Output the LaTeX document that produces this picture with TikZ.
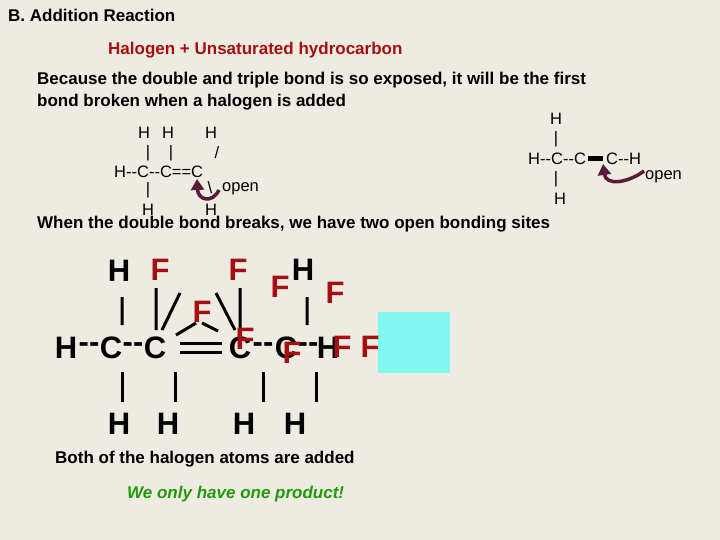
\documentclass[tikz,border=0pt]{standalone}
\usepackage{fontspec}
\setmainfont{Liberation Sans}
\begin{document}
\begin{tikzpicture}[x=1pt,y=-1pt,
  hd/.style={font=\fontsize{17}{19}\selectfont\bfseries,anchor=west,inner sep=0},
  sm/.style={font=\fontsize{16.5}{18}\selectfont,inner sep=0},
  bg/.style={font=\fontsize{31}{33}\selectfont\bfseries,inner sep=0},
  fl/.style={font=\fontsize{31}{33}\selectfont\bfseries,text=fred,inner sep=0},
  bond/.style={line width=3pt},
  arr/.style={draw=arrc,line width=3.5pt,-{Triangle[length=11pt,width=13pt]}}]
\usetikzlibrary{arrows.meta}
\definecolor{bgc}{HTML}{EEEBE3}
\definecolor{fred}{HTML}{A50F0F}
\definecolor{arrc}{HTML}{5B1A3A}
\definecolor{cyanb}{HTML}{80F8F0}
\definecolor{grn}{HTML}{1E9A0A}
\fill[bgc] (0,0) rectangle (720,540);
\useasboundingbox (0,0) rectangle (720,540);
\node[hd] (t1) at (8,15) {B. Addition Reaction};
\node[hd,text=fred] (t2) at (108,50) {Halogen + Unsaturated hydrocarbon};
\node[hd] (t3) at (37,80) {Because the double and triple bond is so exposed, it will be the first};
\node[hd] (t4) at (37,102) {bond broken when a halogen is added};
% top-left molecule
\node[sm] (a1) at (144,133) {H};
\node[sm] (a2) at (168,133) {H};
\node[sm] (a3) at (211,133) {H};
\node[sm] (a4) at (148,153) {|};
\node[sm] (a5) at (171,153) {|};
\node[sm] (a6) at (217,153) {/};
\node[sm,anchor=west] (a7) at (114,172) {H-{}-C-{}-C==C};
\node[sm] (a8) at (148,190) {|};
\node[sm] (a9) at (210,188) {\textbackslash};
\node[sm,anchor=west] (a10) at (222,189) {open};
\node[sm] (a11) at (148,210) {H};
\node[sm] (a12) at (211,210) {H};
\draw[arr] (a10.west)++(-3,1) .. controls (212,204) and (198,200) .. (197,179);
% right molecule
\node[sm] (b1) at (556,119) {H};
\node[sm] (b2) at (556,139) {|};
\node[sm,anchor=west] (b3) at (528,159) {H-{}-C-{}-C};
\node[sm,anchor=west] (b4) at (606,159) {C-{}-H};
\fill (588,156.5) rectangle (603,161.5);
\node[sm] (b5) at (556,179) {|};
\node[sm] (b6) at (560,199) {H};
\node[sm,anchor=west] (b7) at (645,177) {open};
\draw[arr] (b7.west)++(-1,-6) .. controls (628,183) and (606,186) .. (603,164);
\node[hd] (t5) at (37,224) {When the double bond breaks, we have two open bonding sites};
% bottom molecule
\fill[cyanb] (378,312) rectangle (450,373);
\node[bg] (h1) at (119,271) {H};
\node[bg] (h2) at (303,270) {H};
\node[bg] (hl) at (66,348) {H};
\node[bg] (d1) at (89,348) {-{}-};
\node[bg] (c1) at (111,348) {C};
\node[bg] (d2) at (133,348) {-{}-};
\node[bg] (c2) at (155,348) {C};
\node[bg] (c3) at (240,348) {C};
\node[bg] (d3) at (263,348) {-{}-};
\node[bg] (c4) at (286,348) {C};
\node[bg] (d4) at (308,348) {-{}-};
\node[bg] (hr) at (328,348) {H};
\draw[bond] (180,343)--(222,343) (180,352)--(222,352);
\draw[bond] (122,297)--(122,325) (156,288)--(156,330) (180,293)--(162,330)
  (216,293)--(235,330) (240,288)--(240,330) (307,297)--(307,325);
\draw[bond] (202,323)--(218,331) (196,323)--(176,335);
\draw[bond] (122,372)--(122,402) (175,372)--(175,402) (263,372)--(263,402) (316,372)--(316,402);
\node[bg] (h3) at (119,424) {H};
\node[bg] (h4) at (168,424) {H};
\node[bg] (h5) at (244,424) {H};
\node[bg] (h6) at (295,424) {H};
\node[fl] (f1) at (160,270) {F};
\node[fl] (f2) at (238,270) {F};
\node[fl] (f3) at (280,287) {F};
\node[fl] (f4) at (335,293) {F};
\node[fl] (f5) at (202,312) {F};
\node[fl] (f6) at (245,339) {F};
\node[fl] (f7) at (292,353) {F};
\node[fl] (f8) at (342,347) {F};
\node[fl] (f9) at (370,347) {F};
\node[hd] (t6) at (55,459) {Both of the halogen atoms are added};
\node[hd,text=grn,font=\fontsize{17}{19}\selectfont\bfseries\itshape] (t7) at (127,494) {We only have one product!};
\end{tikzpicture}
\end{document}
